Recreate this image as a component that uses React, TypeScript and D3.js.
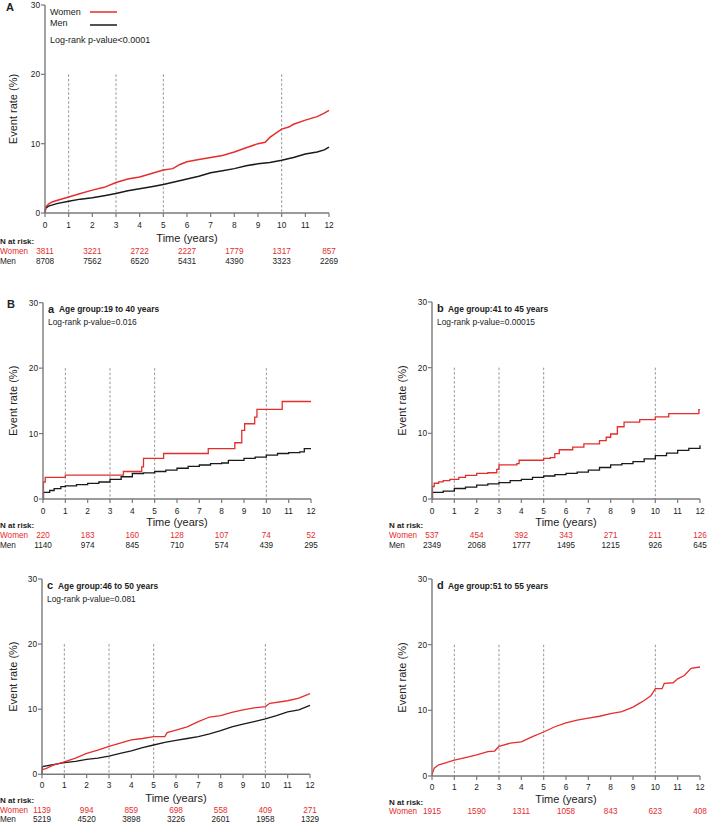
import React from "react";
import * as d3 from "d3";

type Pt = [number, number];

const xTicks = d3.range(0, 13);
const yTicks = [0, 10, 20, 30];
const dashedYears = [1, 3, 5, 10];
const riskYears = [0, 2, 4, 6, 8, 10, 12];

// Panel A — all ages
const womenAll: Pt[] = [
  [0, 0], [0.03, 0.9], [0.15, 1.3], [0.3, 1.6], [0.6, 1.9], [1, 2.3], [1.5, 2.8], [2, 3.3], [2.5, 3.7], [3, 4.4],
  [3.5, 4.9], [4, 5.2], [4.5, 5.7], [5, 6.2], [5.4, 6.4], [5.7, 7.0], [6, 7.4], [6.5, 7.7], [7, 8.0], [7.5, 8.3],
  [8, 8.8], [8.5, 9.4], [9, 10.0], [9.3, 10.2], [9.5, 10.9], [10, 12.1], [10.3, 12.4], [10.5, 12.8], [11, 13.4],
  [11.5, 13.9], [11.8, 14.4], [12, 14.8],
];
const menAll: Pt[] = [
  [0, 0], [0.03, 0.7], [0.15, 1.0], [0.5, 1.35], [1, 1.7], [1.5, 2.0], [2, 2.2], [2.5, 2.5], [3, 2.8], [3.5, 3.2],
  [4, 3.5], [4.5, 3.8], [5, 4.1], [5.5, 4.5], [6, 4.9], [6.5, 5.3], [7, 5.8], [7.5, 6.1], [8, 6.4], [8.5, 6.8],
  [9, 7.1], [9.5, 7.3], [10, 7.6], [10.5, 8.0], [11, 8.5], [11.5, 8.8], [11.8, 9.1], [12, 9.5],
];

// Panel a — 19 to 40 years
const womenA: Pt[] = [
  [0, 0], [0.02, 2.6], [0.1, 3.3], [1.0, 3.65], [3.6, 4.2], [4.42, 4.9], [4.5, 6.2], [5.4, 6.95], [7.4, 7.7],
  [8.59, 8.6], [8.9, 10.5], [9.03, 11.5], [9.48, 12.5], [9.58, 13.7], [10.71, 14.9], [12, 14.9],
];
const menA: Pt[] = [
  [0, 0], [0.02, 1.0], [0.3, 1.3], [0.5, 1.6], [0.8, 1.9], [1, 2.0], [1.5, 2.2], [2, 2.4], [2.5, 2.6], [3, 3.0],
  [3.5, 3.4], [4, 3.9], [4.5, 4.0], [5, 4.2], [5.5, 4.4], [6, 4.7], [6.5, 5.0], [7, 5.2], [7.5, 5.4], [8, 5.5],
  [8.3, 5.9], [9, 6.2], [9.5, 6.4], [10, 6.7], [10.5, 6.95], [11, 7.1], [11.5, 7.2], [11.7, 7.7], [12, 7.7],
];

// Panel b — 41 to 45 years
const womenB: Pt[] = [
  [0, 0], [0.02, 1.9], [0.1, 2.4], [0.3, 2.6], [0.5, 2.8], [0.8, 3.0], [1.2, 3.3], [1.5, 3.6], [2, 3.9],
  [2.5, 4.0], [2.9, 4.5], [3.0, 5.2], [3.8, 5.4], [3.9, 5.9], [5.0, 6.2], [5.3, 6.3], [5.5, 6.9], [5.7, 7.5],
  [6.3, 7.9], [6.8, 8.4], [7.5, 8.9], [7.8, 9.4], [8.0, 9.9], [8.3, 11.0], [8.6, 11.7], [9.3, 12.1],
  [10.0, 12.5], [10.6, 13.0], [11.95, 13.6], [12, 13.6],
];
const menB: Pt[] = [
  [0, 0], [0.02, 1.0], [0.5, 1.2], [1, 1.6], [1.5, 1.8], [2, 2.1], [2.5, 2.3], [3, 2.5], [3.5, 2.8], [4, 3.0],
  [4.5, 3.3], [5, 3.5], [5.5, 3.7], [6, 3.9], [6.5, 4.1], [7, 4.4], [7.5, 4.8], [8, 5.2], [8.5, 5.4], [9, 5.7],
  [9.5, 6.1], [10, 6.6], [10.5, 7.0], [11, 7.4], [11.5, 7.7], [12, 8.2],
];

// Panel c — 46 to 50 years
const womenC: Pt[] = [
  [0, 0], [0.02, 0.7], [0.2, 0.9], [0.5, 1.4], [1, 1.9], [1.5, 2.5], [2, 3.2], [2.5, 3.7], [3, 4.3], [3.5, 4.8],
  [4, 5.3], [4.5, 5.5], [5, 5.8], [5.5, 5.8], [5.6, 6.4], [6, 6.8], [6.5, 7.3], [7, 8.1], [7.5, 8.8], [8, 9.0],
  [8.5, 9.5], [9, 9.9], [9.5, 10.2], [10, 10.4], [10.2, 10.9], [11, 11.3], [11.5, 11.7], [12, 12.4],
];
const menC: Pt[] = [
  [0, 0], [0.02, 1.2], [0.5, 1.5], [1, 1.8], [1.5, 2.0], [2, 2.3], [2.5, 2.5], [3, 2.8], [3.5, 3.2], [4, 3.6],
  [4.5, 4.1], [5, 4.5], [5.5, 4.9], [6, 5.2], [6.5, 5.5], [7, 5.8], [7.5, 6.2], [8, 6.7], [8.5, 7.3], [9, 7.7],
  [9.5, 8.1], [10, 8.5], [10.5, 9.0], [11, 9.6], [11.5, 9.9], [12, 10.6],
];

// Panel d — 51 to 55 years
const womenD: Pt[] = [
  [0, 0], [0.02, 0.4], [0.1, 1.2], [0.3, 1.7], [0.5, 1.9], [1, 2.4], [1.5, 2.8], [2, 3.2], [2.5, 3.7], [2.8, 3.8],
  [3, 4.5], [3.5, 5.0], [4, 5.2], [4.5, 6.0], [5, 6.7], [5.5, 7.5], [6, 8.1], [6.5, 8.5], [7, 8.8], [7.5, 9.1],
  [8, 9.5], [8.5, 9.8], [9, 10.5], [9.3, 11.1], [9.5, 11.5], [9.8, 12.2], [10, 13.3], [10.3, 13.3], [10.4, 14.1],
  [10.8, 14.2], [11, 14.8], [11.3, 15.3], [11.6, 16.4], [12, 16.6],
];

// Numbers at risk
const riskWomenAll = [3811, 3221, 2722, 2227, 1779, 1317, 857];
const riskMenAll = [8708, 7562, 6520, 5431, 4390, 3323, 2269];
const riskWomenA = [220, 183, 160, 128, 107, 74, 52];
const riskMenA = [1140, 974, 845, 710, 574, 439, 295];
const riskWomenB = [537, 454, 392, 343, 271, 211, 126];
const riskMenB = [2349, 2068, 1777, 1495, 1215, 926, 645];
const riskWomenC = [1139, 994, 859, 698, 558, 409, 271];
const riskMenC = [5219, 4520, 3898, 3226, 2601, 1958, 1329];
const riskWomenD = [1915, 1590, 1311, 1058, 843, 623, 408];

const RED = "#e52d2d";
const BLACK = "#1a1a1a";
const AXIS = "#7a7a7a";
const TEXT = "#222";
const FONT = "Arial, 'Liberation Sans', Helvetica, sans-serif";

type PanelProps = {
  x0: number; x1: number; yTop: number; y0: number;
  tickY: number; timeY: number; nRiskY: number; womenY: number; menY: number;
  labelX: number; ylabelX: number;
  women: Pt[]; men?: Pt[]; step: boolean; lw: number;
  riskW: number[]; riskM?: number[];
  letter?: string; title?: string; pval?: string; legend?: boolean;
};

function Panel(p: PanelProps) {
  const x = d3.scaleLinear().domain([0, 12]).range([p.x0, p.x1]);
  const y = d3.scaleLinear().domain([0, 30]).range([p.y0, p.yTop]);
  const line = d3.line<Pt>().x(d => x(d[0])).y(d => y(d[1])).curve(p.step ? d3.curveStepAfter : d3.curveLinear);
  return (
    <g fontFamily={FONT}>
      {dashedYears.map(t => (
        <line key={"d" + t} x1={x(t)} x2={x(t)} y1={y(20)} y2={y(0)} stroke="#8a8a8a" strokeWidth={0.9} strokeDasharray="2.5,2" />
      ))}
      {p.men && <path d={line(p.men) || ""} fill="none" stroke={BLACK} strokeWidth={p.lw} />}
      <path d={line(p.women) || ""} fill="none" stroke={RED} strokeWidth={p.lw} />
      <line x1={x(0)} x2={x(0)} y1={y(30)} y2={y(0)} stroke={AXIS} strokeWidth={1.4} />
      <line x1={x(0)} x2={x(12)} y1={y(0)} y2={y(0)} stroke={AXIS} strokeWidth={1.4} />
      {yTicks.map(v => (
        <g key={"y" + v}>
          <line x1={x(0) - 4} x2={x(0)} y1={y(v)} y2={y(v)} stroke={AXIS} strokeWidth={1.2} />
          <text x={x(0) - 5} y={y(v)} textAnchor="end" dominantBaseline="central" fontSize={8.3} fill={TEXT}>{v}</text>
        </g>
      ))}
      {xTicks.map(t => (
        <g key={"x" + t}>
          <line x1={x(t)} x2={x(t)} y1={y(0)} y2={y(0) + 4} stroke={AXIS} strokeWidth={1.2} />
          <text x={x(t)} y={p.tickY} textAnchor="middle" dominantBaseline="central" fontSize={8.3} fill={TEXT}>{t}</text>
        </g>
      ))}
      <text x={(p.x0 + p.x1) / 2} y={p.timeY} textAnchor="middle" dominantBaseline="central" fontSize={11} fill={TEXT}>Time (years)</text>
      <text transform={`translate(${p.ylabelX},${(p.yTop + p.y0) / 2}) rotate(-90)`} textAnchor="middle" dominantBaseline="central" fontSize={11} fill={TEXT}>Event rate (%)</text>
      <text x={p.labelX} y={p.nRiskY} dominantBaseline="central" fontSize={8} fontWeight="bold" fill={TEXT}>N at risk:</text>
      <text x={p.labelX} y={p.womenY} dominantBaseline="central" fontSize={8.2} fill={RED}>Women</text>
      {p.riskW.map((n, i) => (
        <text key={"rw" + i} x={x(riskYears[i])} y={p.womenY} textAnchor="middle" dominantBaseline="central" fontSize={8.2} fill={RED}>{n}</text>
      ))}
      {p.riskM && <text x={p.labelX} y={p.menY} dominantBaseline="central" fontSize={8.2} fill={TEXT}>Men</text>}
      {p.riskM && p.riskM.map((n, i) => (
        <text key={"rm" + i} x={x(riskYears[i])} y={p.menY} textAnchor="middle" dominantBaseline="central" fontSize={8.2} fill={TEXT}>{n}</text>
      ))}
      {p.letter && (
        <g>
          <text x={x(0) + 5} y={p.yTop + 6} dominantBaseline="central" fontSize={11} fontWeight="bold" fill={TEXT}>{p.letter}</text>
          <text x={x(0) + 16} y={p.yTop + 6.5} dominantBaseline="central" fontSize={8.4} fontWeight="bold" fill={TEXT}>{p.title}</text>
        </g>
      )}
      {p.pval && (
        <text x={x(0) + 5} y={p.legend ? p.yTop + 34.5 : p.yTop + 19.5} dominantBaseline="central" fontSize={p.legend ? 9 : 8.4} fill={TEXT}>{p.pval}</text>
      )}
      {p.legend && (
        <g>
          <text x={x(0) + 5} y={p.yTop + 7} dominantBaseline="central" fontSize={9} fill={TEXT}>Women</text>
          <line x1={x(0) + 45} x2={x(0) + 72} y1={p.yTop + 7} y2={p.yTop + 7} stroke={RED} strokeWidth={1.5} />
          <text x={x(0) + 5} y={p.yTop + 17.5} dominantBaseline="central" fontSize={9} fill={TEXT}>Men</text>
          <line x1={x(0) + 45} x2={x(0) + 72} y1={p.yTop + 20} y2={p.yTop + 20} stroke={BLACK} strokeWidth={1.5} />
        </g>
      )}
    </g>
  );
}

export default function App() {
  return (
    <svg width={709} height={823} style={{ position: "absolute", left: 0, top: 0, background: "#fff" }}>
      <rect width={709} height={823} fill="#fff" />
      <text x={6} y={7} dominantBaseline="central" fontSize={11} fontWeight="bold" fontFamily={FONT} fill={TEXT}>A</text>
      <text x={7} y={304} dominantBaseline="central" fontSize={11} fontWeight="bold" fontFamily={FONT} fill={TEXT}>B</text>
      <Panel x0={45} x1={329} yTop={5} y0={213} tickY={225} timeY={237.7} nRiskY={241.7} womenY={251.7} menY={261}
        labelX={0} ylabelX={12.5} women={womenAll} men={menAll} step={false} lw={1.5}
        riskW={riskWomenAll} riskM={riskMenAll} pval="Log-rank p-value<0.0001" legend />
      <Panel x0={43} x1={311} yTop={302.7} y0={499} tickY={510.7} timeY={521.7} nRiskY={525.7} womenY={535.7} menY={545.7}
        labelX={0} ylabelX={13} women={womenA} men={menA} step lw={1.3}
        riskW={riskWomenA} riskM={riskMenA} letter="a" title="Age group:19 to 40 years" pval="Log-rank p-value=0.016" />
      <Panel x0={432} x1={700} yTop={302} y0={499} tickY={510.7} timeY={521.7} nRiskY={525.7} womenY={535.7} menY={545.7}
        labelX={389} ylabelX={401.5} women={womenB} men={menB} step lw={1.3}
        riskW={riskWomenB} riskM={riskMenB} letter="b" title="Age group:41 to 45 years" pval="Log-rank p-value=0.00015" />
      <Panel x0={42} x1={310} yTop={579} y0={774.3} tickY={785} timeY={797.7} nRiskY={800.7} womenY={810} menY={819.3}
        labelX={0} ylabelX={12.5} women={womenC} men={menC} step={false} lw={1.3}
        riskW={riskWomenC} riskM={riskMenC} letter="c" title="Age group:46 to 50 years" pval="Log-rank p-value=0.081" />
      <Panel x0={432} x1={700} yTop={579} y0={776} tickY={786.7} timeY={799} nRiskY={802.7} womenY={811.7} menY={821}
        labelX={389} ylabelX={401.5} women={womenD} step={false} lw={1.3}
        riskW={riskWomenD} letter="d" title="Age group:51 to 55 years" />
    </svg>
  );
}
